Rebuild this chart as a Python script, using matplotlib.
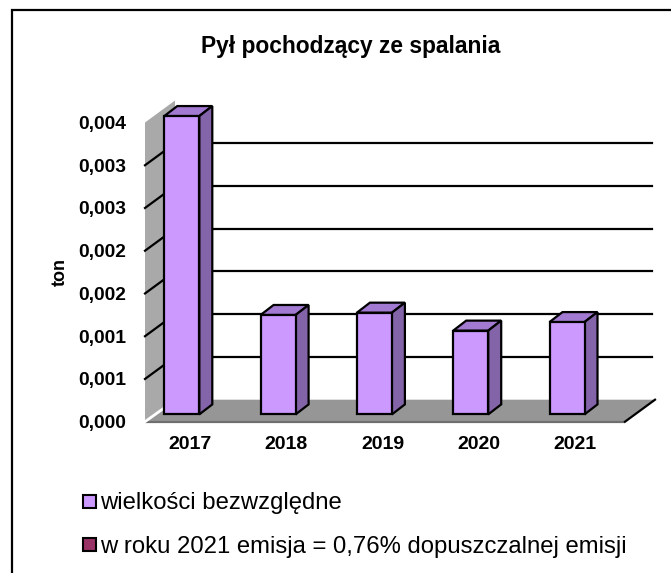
import matplotlib
matplotlib.use("Agg")
import matplotlib.pyplot as plt
from matplotlib.patches import Polygon, Rectangle
from matplotlib.transforms import Affine2D

plt.rcParams['font.family'] = ['Liberation Sans', 'DejaVu Sans']

title = "Pył pochodzący ze spalania"
y_label = "ton"
years = ['2017', '2018', '2019', '2020', '2021']
values = [0.00349, 0.001163, 0.00119, 0.00098, 0.00108]
y_ticks = [0, 0.0005, 0.001, 0.0015, 0.002, 0.0025, 0.003, 0.0035]
y_tick_labels = ['0,000', '0,001', '0,001', '0,002', '0,002', '0,003', '0,003', '0,004']
legend_labels = ['wielkości bezwzględne', 'w roku 2021 emisja = 0,76% dopuszczalnej emisji']

W, H = 671, 573
fig = plt.figure(figsize=(W / 100, H / 100), dpi=100, facecolor='white')

# rama wykresu: widoczna tylko z lewej i u gory, reszta uciete przez kadr
fig.add_artist(plt.Line2D([11.5 / W, 11.5 / W, 1], [0, 1 - 10 / H, 1 - 10 / H], transform=fig.transFigure,
                          color='black', linewidth=1.6, solid_joinstyle='miter'))

# os: przednia krawedz podlogi w pikselach
left, right, bottom, top = 145, 625, 421.7, 122.5
ax = fig.add_axes([left / W, 1 - bottom / H, (right - left) / W, (bottom - top) / H])
ax.patch.set_visible(False)
for s in ax.spines.values():
    s.set_visible(False)

x_step = 96.3
x0 = 181.8
ax.set_xlim((left - x0) / x_step, (right - x0) / x_step)
ax.set_ylim(0, 0.0035)
px_y = 0.0035 / (bottom - top)
px_x = 1 / x_step

xs = list(range(len(years)))
xmin, xmax = ax.get_xlim()

# glebokosc sciany i podlogi
wall_dx, wall_dy = 30 * px_x, 22 * px_y
ax.add_patch(Polygon([(xmin, 0), (xmin, 0.0035), (xmin + wall_dx, 0.0035 + wall_dy), (xmin + wall_dx, wall_dy)],
                     facecolor='#a9a9a9', edgecolor='none', clip_on=False, zorder=1))
ax.add_patch(Polygon([(xmin, 0), (xmax, 0), (xmax + wall_dx, wall_dy), (xmin + wall_dx, wall_dy)],
                     facecolor='#969696', edgecolor='none', clip_on=False, zorder=1))
ax.plot([xmin, xmax], [0, 0], color='#6e6e6e', lw=1.6, clip_on=False, zorder=2, solid_capstyle='butt')
ax.plot([xmax, xmax + wall_dx], [0, wall_dy], color='black', lw=1.6, clip_on=False, zorder=2)
ax.plot([xmin, xmin + 21 * px_x], [0, 15 * px_y], color='white', lw=2, clip_on=False, zorder=2)

# siatka: na scianie i z tylu
for t in y_ticks[1:-1]:
    ax.plot([xmin, xmin + wall_dx], [t, t + wall_dy], color='black', lw=1.6, clip_on=False, zorder=2)
    ax.plot([xmin + wall_dx, xmax + wall_dx - 3 * px_x], [t + wall_dy, t + wall_dy], color='black', lw=1.6,
            clip_on=False, zorder=2)

# slupki 3D
bar_w = 35 * px_x
bar_dx, bar_dy = 13 * px_x, 10 * px_y
plane = ax.transData + Affine2D().translate(0, 7.3)
ax.bar(xs, values, width=bar_w, color='#cc99ff', edgecolor='black', linewidth=1.6, transform=plane, zorder=4,
       clip_on=False)
for x, v in zip(xs, values):
    l, r = x - bar_w / 2, x + bar_w / 2
    ax.add_patch(Polygon([(l, v), (r, v), (r + bar_dx, v + bar_dy), (l + bar_dx, v + bar_dy)], closed=True,
                         facecolor='#a37ad1', edgecolor='black', linewidth=1.6, transform=plane, zorder=3,
                         clip_on=False))
    ax.add_patch(Polygon([(r, 0), (r + bar_dx, bar_dy), (r + bar_dx, v + bar_dy), (r, v)], closed=True,
                         facecolor='#8464a8', edgecolor='black', linewidth=1.6, transform=plane, zorder=3,
                         clip_on=False))

# opisy osi
ax.set_yticks(y_ticks, y_tick_labels, fontsize=13.9, fontweight='bold')
ax.set_xticks([x + 0.085 for x in xs], years, fontsize=14, fontweight='bold')
ax.tick_params(axis='both', length=0)
ax.tick_params(axis='y', pad=13.7)
ax.tick_params(axis='x', pad=10.5)
fig.text(60.5 / W, 1 - 272 / H, y_label, rotation=90, ha='center', va='center', fontsize=13, fontweight='bold')
fig.text(351 / W, 1 - 53.5 / H, title, ha='center', va='baseline', fontsize=16.4, fontweight='bold')

# legenda
for label, color, y, base in zip(legend_labels, ['#cc99ff', '#993366'], [501.5, 544], [509.5, 552.7]):
    fig.add_artist(Rectangle((83 / W, 1 - (y + 6.5) / H), 13 / W, 13 / H, transform=fig.transFigure,
                             facecolor=color, edgecolor='black', linewidth=1.5))
    fig.text(100.5 / W, 1 - base / H, label, ha='left', va='baseline', fontsize=17.2)

fig.savefig('out.png', dpi=100)
